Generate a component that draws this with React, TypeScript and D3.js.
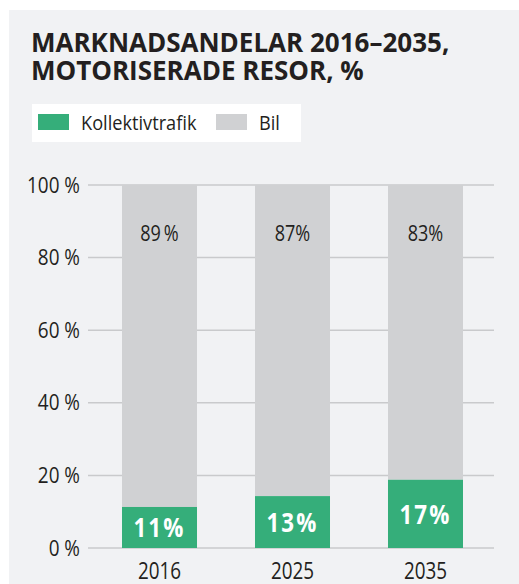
import React from "react";
import * as d3 from "d3";

const years = ["2016", "2025", "2035"];
const transitShare = [11.3, 14.3, 18.8];
const carShare = [88.7, 85.7, 81.2];
const transitLabels = ["11%", "13%", "17%"];
const carLabels = ["89\u2009%", "87%", "83%"];
const yTicks = [0, 20, 40, 60, 80, 100];
const titleLines = ["MARKNADSANDELAR 2016\u20132035,", "MOTORISERADE RESOR, %"];
const legendItems = ["Kollektivtrafik", "Bil"];

const W = 519;
const H = 584;
const GREEN = "#35ae7a";
const GRAY = "#d0d1d3";
const PANEL = "#f1f2f4";
const GRID = "#c9cacc";
const TEXT = "#231f20";
const FONT = "'Open Sans', 'Noto Sans', sans-serif";

function CText({ x, y, anchor = "start", size, weight = 400, fill = TEXT, children, spacing = 0, sx = 0.86 }: any) {
  return (
    <text
      transform={`translate(${x},${y}) scale(${sx},1)`}
      textAnchor={anchor}
      fontSize={size}
      fontWeight={weight}
      fill={fill}
      fontFamily={FONT}
      letterSpacing={spacing}
    >
      {children}
    </text>
  );
}

export default function App() {
  const y = d3.scaleLinear().domain([0, 100]).range([548, 185]);
  const x = d3.scaleBand().domain(years).range([122, 463]).paddingInner(0.436).paddingOuter(0);
  const gridX0 = 88;
  const gridX1 = 494;
  const legendColors = [GREEN, GRAY];

  return (
    <svg width={W} height={H} style={{ position: "absolute", left: 0, top: 0 }}>
      <rect x={0} y={0} width={W} height={H} fill="#ffffff" />
      <rect x={9} y={10} width={W - 9} height={H - 10} fill={PANEL} />
      {titleLines.map((t, i) => (
        <text key={t} x={31} y={52 + i * 28} fontSize={26} fontWeight={700} fill={TEXT} fontFamily={FONT}>
          {t}
        </text>
      ))}
      <rect x={32} y={104} width={269} height={38} fill="#ffffff" />
      {legendItems.map((t, i) => {
        const lx = i === 0 ? 38 : 216;
        return (
          <g key={t}>
            <rect x={lx} y={114} width={31} height={16} fill={legendColors[i]} />
            <CText x={lx + 43} y={130} size={20} sx={0.91}>
              {t}
            </CText>
          </g>
        );
      })}
      {yTicks.map((t) => (
        <g key={t}>
          <line x1={gridX0} x2={gridX1} y1={y(t)} y2={y(t)} stroke={GRID} strokeWidth={1.5} />
          <CText x={80} y={y(t) + 7.5} anchor="end" size={22}>
            {`${t} %`}
          </CText>
        </g>
      ))}
      {years.map((yr, i) => {
        const bx = x(yr)!;
        const bw = x.bandwidth();
        const g0 = y(0);
        const g1 = y(transitShare[i]);
        const c1 = y(transitShare[i] + carShare[i]);
        return (
          <g key={yr}>
            <rect x={bx} y={c1} width={bw} height={g1 - c1} fill={GRAY} />
            <rect x={bx} y={g1} width={bw} height={g0 - g1} fill={GREEN} />
            <CText x={bx + bw / 2} y={y(100) + 56} anchor="middle" size={21}>
              {carLabels[i]}
            </CText>
            <CText x={bx + bw / 2} y={(g0 + g1) / 2 + 10} anchor="middle" size={26} weight={700} fill="#ffffff" spacing={2.5}>
              {transitLabels[i]}
            </CText>
            <CText x={bx + bw / 2} y={579} anchor="middle" size={23} sx={0.82}>
              {yr}
            </CText>
          </g>
        );
      })}
    </svg>
  );
}
